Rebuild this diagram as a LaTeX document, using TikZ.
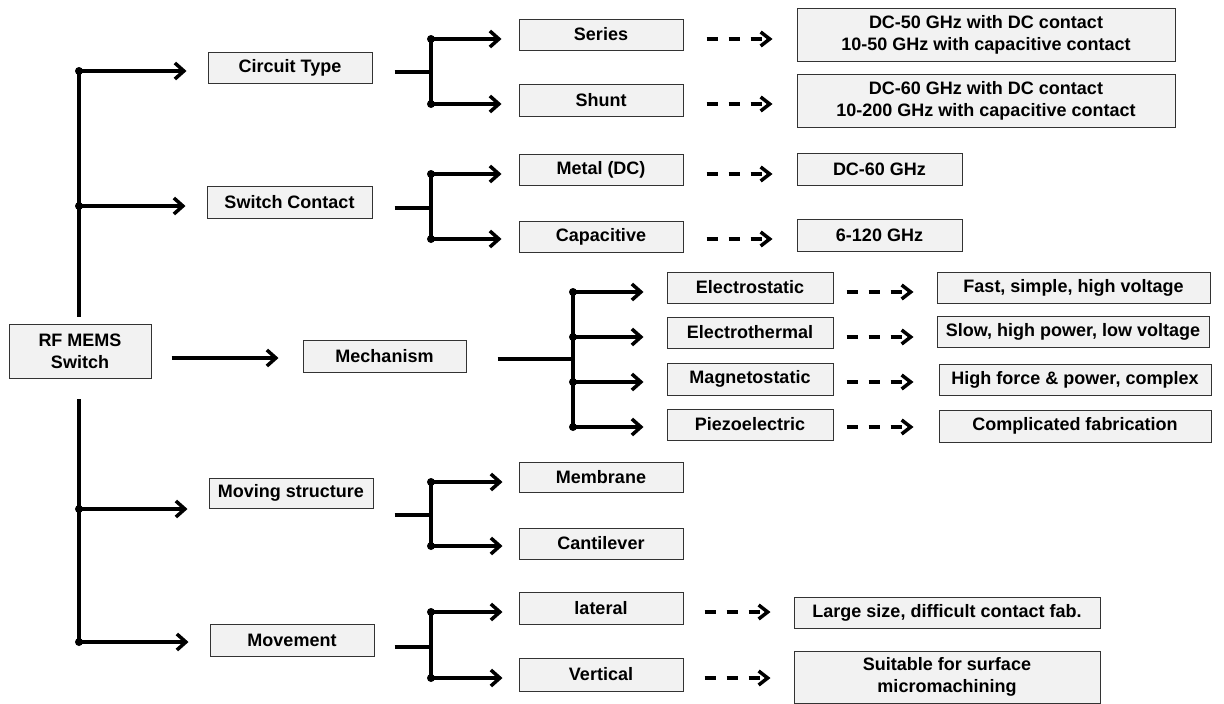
\documentclass[tikz,border=0pt]{standalone}
\usepackage{fontspec}
\setmainfont{Liberation Sans}
\usetikzlibrary{arrows.meta}
\begin{document}
\begin{tikzpicture}[x=1pt,y=-1pt,
  box/.style={draw=black!80, fill=black!5, line width=1pt, inner sep=0pt, align=center,
    font=\bfseries\fontsize{18}{21.7}\selectfont},
  wire/.style={line width=3.5pt},
  arr/.style={line width=3.5pt, -{Straight Barb[length=9pt,width=16pt]}},
  darr/.style={line width=3.5pt, dash pattern=on 11pt off 11pt, -{Straight Barb[length=9pt,width=14pt]}},
  jdot/.style={fill=black}]
\useasboundingbox (0,0) rectangle (1224,704);

% level 0 and 1
\node[box, minimum width=142pt, minimum height=54pt] (root) at (80,351) {RF MEMS\\Switch};
\node[box, minimum width=164pt, minimum height=31pt] (ct) at (290,67.5) {Circuit Type};
\node[box, minimum width=165pt, minimum height=32pt] (sc) at (289.5,202) {Switch Contact};
\node[box, minimum width=163pt, minimum height=32pt] (mech) at (384.5,356) {Mechanism};
\node[box, minimum width=164pt, minimum height=30pt] (ms) at (291,493) {Moving structure};
\node[box, minimum width=164pt, minimum height=32pt] (mv) at (292,640) {Movement};

% level 2
\node[box, minimum width=164pt, minimum height=31pt] (series) at (601,34.5) {Series};
\node[box, minimum width=164pt, minimum height=32pt] (shunt) at (601,100) {Shunt};
\node[box, minimum width=164pt, minimum height=31pt] (metal) at (601,169.5) {Metal (DC)};
\node[box, minimum width=164pt, minimum height=31pt] (capac) at (601,236.5) {Capacitive};
\node[box, minimum width=166pt, minimum height=31pt] (es) at (750,287.5) {Electrostatic};
\node[box, minimum width=166pt, minimum height=31pt] (et) at (750,332.5) {Electrothermal};
\node[box, minimum width=166pt, minimum height=32pt] (mg) at (750,379) {Magnetostatic};
\node[box, minimum width=166pt, minimum height=31pt] (pz) at (750,424.5) {Piezoelectric};
\node[box, minimum width=164pt, minimum height=30pt] (memb) at (601,477) {Membrane};
\node[box, minimum width=164pt, minimum height=31pt] (cant) at (601,543.5) {Cantilever};
\node[box, minimum width=164pt, minimum height=32pt] (lat) at (601,608) {lateral};
\node[box, minimum width=164pt, minimum height=33pt] (vert) at (601,674.5) {Vertical};

% level 3
\node[box, minimum width=378pt, minimum height=53pt] (r1) at (986,34.5) {DC-50 GHz with DC contact\\10-50 GHz with capacitive contact};
\node[box, minimum width=378pt, minimum height=53pt] (r2) at (986,100.5) {DC-60 GHz with DC contact\\10-200 GHz with capacitive contact};
\node[box, minimum width=165pt, minimum height=32pt] (r3) at (879.5,169) {DC-60 GHz};
\node[box, minimum width=165pt, minimum height=32pt] (r4) at (879.5,235) {6-120 GHz};
\node[box, minimum width=273pt, minimum height=31pt] (q1) at (1073.5,287.5) {Fast, simple, high voltage};
\node[box, minimum width=272pt, minimum height=31pt] (q2) at (1073,331.5) {Slow, high power, low voltage};
\node[box, minimum width=272pt, minimum height=31pt] (q3) at (1075,379.5) {High force \& power, complex};
\node[box, minimum width=272pt, minimum height=32pt] (q4) at (1075,426) {Complicated fabrication};
\node[box, minimum width=306pt, minimum height=31pt] (m1) at (947,612.5) {Large size, difficult contact fab.};
\node[box, minimum width=306pt, minimum height=52pt] (m2) at (947,677) {Suitable for surface\\micromachining};

% junction coordinates
\coordinate (d1) at (79,71);
\coordinate (d2) at (79,206);
\coordinate (d3) at (79,509);
\coordinate (d4) at (79,642);
\coordinate (j1) at (431,72);  \coordinate (a1) at (431,39);  \coordinate (a2) at (431,104);
\coordinate (j2) at (431,208); \coordinate (b1) at (431,174); \coordinate (b2) at (431,239);
\coordinate (j3) at (573,359); \coordinate (c1) at (573,292); \coordinate (c2) at (573,337);
\coordinate (c3) at (573,382); \coordinate (c4) at (573,427);
\coordinate (j4) at (431,515); \coordinate (e1) at (431,482); \coordinate (e2) at (431,546);
\coordinate (j5) at (431,647); \coordinate (f1) at (431,612); \coordinate (f2) at (431,678);

% main trunk
\draw[wire, shorten >=7pt] (d1) -- (d1 |- root.north);
\draw[wire, shorten >=20pt] (d4) -- (d4 |- root.south);
\foreach \p/\b in {d1/ct, d2/sc, d3/ms, d4/mv}
  \draw[arr, shorten >=21pt] (\p) -- (\p -| \b.west);
\draw[arr, shorten <=20pt, shorten >=24pt] ([yshift=-7pt]root.east) -- ([yshift=-7pt]root.east -| mech.west);

% circuit type
\draw[wire, shorten <=22pt] (j1 -| ct.east) -- (j1);
\draw[wire] (a1) -- (a2);
\draw[arr, shorten >=17pt] (a1) -- (a1 -| series.west);
\draw[arr, shorten >=17pt] (a2) -- (a2 -| shunt.west);
% switch contact
\draw[wire, shorten <=22pt] (j2 -| sc.east) -- (j2);
\draw[wire] (b1) -- (b2);
\draw[arr, shorten >=17pt] (b1) -- (b1 -| metal.west);
\draw[arr, shorten >=17pt] (b2) -- (b2 -| capac.west);
% mechanism
\draw[wire, shorten <=31pt] (j3 -| mech.east) -- (j3);
\draw[wire] (c1) -- (c4);
\foreach \p/\b in {c1/es, c2/et, c3/mg, c4/pz}
  \draw[arr, shorten >=23pt] (\p) -- (\p -| \b.west);
% moving structure
\draw[wire, shorten <=21pt] (j4 -| ms.east) -- (j4);
\draw[wire] (e1) -- (e2);
\draw[arr, shorten >=16pt] (e1) -- (e1 -| memb.west);
\draw[arr, shorten >=16pt] (e2) -- (e2 -| cant.west);
% movement
\draw[wire, shorten <=20pt] (j5 -| mv.east) -- (j5);
\draw[wire] (f1) -- (f2);
\draw[arr, shorten >=16pt] (f1) -- (f1 -| lat.west);
\draw[arr, shorten >=16pt] (f2) -- (f2 -| vert.west);

% dots
\foreach \p in {d1,d2,d3,d4,a1,a2,b1,b2,c1,c2,c3,c4,e1,e2,f1,f2}
  \fill[jdot] (\p) circle (4pt);

% dashed result arrows
\draw[darr, shorten <=23pt, shorten >=24pt] (a1 -| series.east) -- (a1 -| r1.west);
\draw[darr, shorten <=23pt, shorten >=24pt] (a2 -| shunt.east) -- (a2 -| r2.west);
\draw[darr, shorten <=23pt, shorten >=24pt] (b1 -| metal.east) -- (b1 -| r3.west);
\draw[darr, shorten <=23pt, shorten >=24pt] (b2 -| capac.east) -- (b2 -| r4.west);
\draw[darr, shorten <=13pt, shorten >=23pt] (c1 -| es.east) -- (c1 -| q1.west);
\draw[darr, shorten <=13pt, shorten >=23pt] (c2 -| et.east) -- (c2 -| q1.west);
\draw[darr, shorten <=13pt, shorten >=25pt] (c3 -| mg.east) -- (c3 -| q3.west);
\draw[darr, shorten <=13pt, shorten >=25pt] (c4 -| pz.east) -- (c4 -| q4.west);
\draw[darr, shorten <=21pt, shorten >=23pt] (f1 -| lat.east) -- (f1 -| m1.west);
\draw[darr, shorten <=21pt, shorten >=23pt] (f2 -| vert.east) -- (f2 -| m2.west);
\end{tikzpicture}
\end{document}
